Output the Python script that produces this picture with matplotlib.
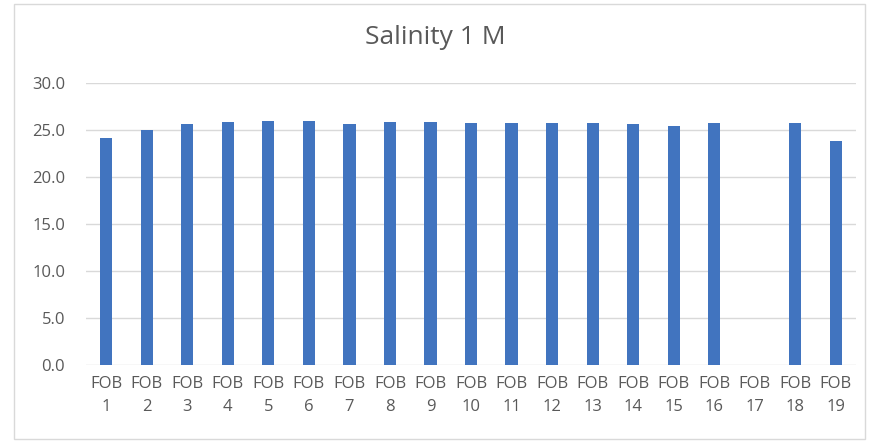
import numpy as np
import matplotlib.pyplot as plt
from matplotlib.patches import Rectangle

plt.rcParams['font.family'] = ['Open Sans', 'DejaVu Sans']

# data
stations = ['FOB\n%d' % i for i in range(1, 20)]
salinity = [24.2, 25.0, 25.6, 25.8, 26.0, 26.0, 25.6, 25.8, 25.9, 25.7,
            25.7, 25.7, 25.7, 25.6, 25.4, 25.7, np.nan, 25.7, 23.8]
yticks = [0, 5, 10, 15, 20, 25, 30]

fig = plt.figure(figsize=(8.71, 4.43), dpi=100)
ax = fig.add_axes([86 / 871, 78 / 443, 770 / 871, 282 / 443])

x = np.arange(len(stations))
ax.bar(x, salinity, width=0.3, color='#4174bf', zorder=3)

ax.set_xlim(-0.5, len(stations) - 0.5)
ax.set_ylim(0, 30)
ax.set_yticks(yticks)
ax.set_yticklabels(['%.1f' % v for v in yticks])
ax.set_xticks(x)
ax.set_xticklabels(stations, linespacing=1.55)
ax.tick_params(axis='both', length=0, labelsize=12, colors='#595959')
ax.tick_params(axis='y', pad=15)
ax.tick_params(axis='x', pad=8)
ax.grid(axis='y', color='#d9d9d9', linewidth=1, zorder=0)
for s in ax.spines.values():
    s.set_visible(False)

fig.text(0.5, 1 - 38 / 443, 'Salinity 1 M', ha='center', va='center',
         fontsize=19, color='#595959')

fig.patches.append(Rectangle((14 / 871, 0.01), 1 - 20 / 871, 0.98,
                             transform=fig.transFigure, fill=False,
                             edgecolor='#d9d9d9', linewidth=1))

fig.savefig('out.png', dpi=100)
